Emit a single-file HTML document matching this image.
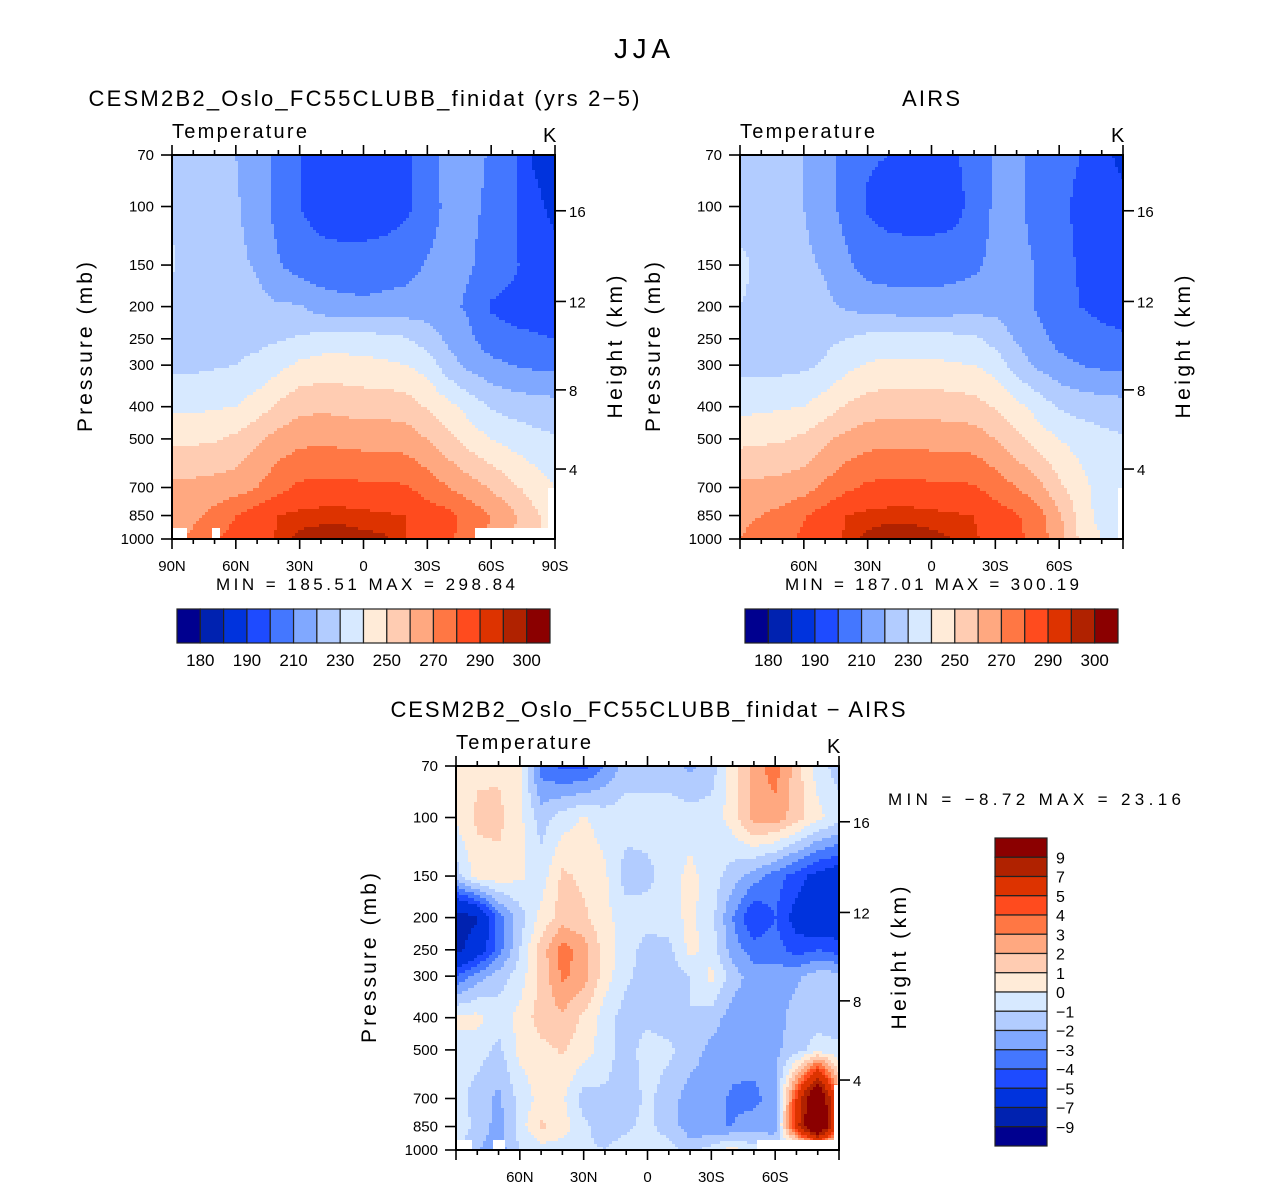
<!DOCTYPE html>
<html><head><meta charset="utf-8"><style>
html,body{margin:0;padding:0;background:#fff}
svg{display:block}
text{font-family:"Liberation Sans",sans-serif;fill:#000}
</style></head><body>
<svg id="fig" width="1285" height="1188" viewBox="0 0 1285 1188">
<text x="642" y="58" font-size="28" text-anchor="middle" textLength="56">JJA</text>
<g id="panelA"></g>
<g id="panelB"></g>
<g id="panelC"></g>
</svg>
<script>
const lats=[90,80,70,60,50,40,30,20,10,0,-10,-20,-30,-40,-50,-60,-70,-80,-90];
const pressures=[70,100,150,200,250,300,400,500,700,850,1000];
const tempLevels=[180,185,190,200,210,220,230,240,250,260,270,280,290,295,300];
const diffLevels=[-9,-7,-5,-4,-3,-2,-1,0,1,2,3,4,5,7,9];
const tempLabels=["180","190","210","230","250","270","290","300"];
const diffLabels=["9","7","5","4","3","2","1","0","−1","−2","−3","−4","−5","−7","−9"];
const pressureTicks=[70,100,150,200,250,300,400,500,700,850,1000];
const heightTicks=[4,8,12,16];
const heightTickPressure=[616,356,193,103];
const latTicksFull=["90N","60N","30N","0","30S","60S","90S"];
const latTicksInner=["","60N","30N","0","30S","60S",""];
const cesmT=[
[225,224,222,220,216,206,200,196,195,195,195,198,206,214,213,209,204,189,186],
[229,224,222,221,216,206,200,196,194,194,195,198,205,213,212,208,203,192,188],
[231,226,224,222,219,211,205,204,204,204,205,206,211,214,211,206,202,195,193],
[227,227,226,225,223,221,221,215,213,212,213,214,215,213,208,199,197,196,196],
[227,227,227,228,228,229,231,234,235,234,233,231,225,218,212,204,202,201,200],
[228,228,229,230,232,237,242,244,244,243,242,240,236,224,217,213,210,208,207],
[238,238,239,240,245,252,257,258,257,256,256,255,249,243,236,229,226,225,224],
[248,248,249,252,258,264,267,268,267,266,266,265,260,253,245,240,236,233,231],
[263,263,264,265,270,277,282,283,283,282,282,281,276,270,265,259,252,246,240],
[266,268,273,280,285,290,292,293,293,292,291,290,285,283,276,270,262,252,245],
[268,272,279,284,287,291,297,298,298,297,296,290,287,282,275,268,260,252,246]];
const airsT=[
[224,224,223,220,214,207,201,200,197,197,199,203,212,213,206,203,200,192,188],
[226,225,223,220,214,206,199,196,195,195,196,203,212,213,205,202,198,195,192],
[232,228,224,222,219,212,206,205,205,205,206,208,213,214,209,203,199,197,196],
[230,228,226,224,222,219,216,215,214,214,215,216,217,214,209,203,200,198,197],
[226,227,228,228,228,230,233,234,234,234,233,232,226,219,213,207,204,202,201],
[227,227,227,228,231,237,241,242,242,242,241,240,236,225,218,213,210,208,207],
[237,238,239,240,245,251,255,256,256,256,255,254,249,243,236,229,226,225,224],
[247,248,249,252,258,263,266,267,267,266,266,265,260,253,245,240,236,233,231],
[263,263,264,266,272,278,282,283,283,282,282,281,276,270,264,252,244,235,233],
[268,270,273,279,285,290,292,293,293,292,291,290,285,281,274,262,246,236,236],
[270,273,277,282,287,291,297,299,299,297,295,291,287,283,275,265,248,240,238]];
const diffT=[
[0.3,0.8,0.8,0.2,-3.5,-4.3,-4.3,-3,-1.5,-1.5,-1.5,-2.2,-1.5,0.5,2.5,3.5,1.5,-0.5,-1.5],
[0.2,1.2,1.3,0.3,-1.5,-0.5,0.1,-0.5,-0.5,-0.5,-0.5,-0.5,-0.6,0.5,2.5,2.6,1.5,0.3,-0.5],
[-1.5,0.5,0.6,0.2,-0.5,1.2,0.8,0.2,-1.5,-1.3,-0.5,0.3,-0.5,-1.5,-2.5,-3.5,-4.5,-5.5,-6],
[-8,-7.2,-3.5,-1.5,0.3,1.5,1.2,0.3,-0.5,-0.5,-0.5,0.3,-0.6,-3,-5,-4,-5.5,-6.5,-6],
[-7.5,-6,-3.5,-1,1.5,3.5,2.5,0.5,-0.5,-1.5,-1.3,0.3,-0.5,-2.5,-3.5,-3.5,-4.5,-4,-4.5],
[-4,-2.5,-1.5,-0.5,1.2,3.2,2.5,0.5,-0.8,-1.5,-1.5,-1,0.3,-1.5,-2.5,-2.5,-2.2,-1.5,-1.5],
[0.3,0.3,-0.5,0.3,1.5,1.8,0.8,-0.5,-1.5,-1.3,-1.5,-1,-1.5,-2.5,-2.5,-2.5,-1.5,-1.5,-1.5],
[-0.5,-0.5,-1.3,0.3,0.7,1.1,0.5,-0.5,-1.5,-0.5,-0.8,-1.5,-2.3,-2.5,-2.5,-2.2,-1.5,-0.5,-0.8],
[-0.5,-1.5,-2.2,-0.7,0.4,0.2,-1.5,-1.2,-1.5,-0.8,-1.5,-2.5,-2.5,-3.2,-3.3,-2.5,5,13,3],
[-0.5,-1.2,-2.5,-0.5,1.2,0.5,-0.8,-1.5,-1.2,-0.7,-1.5,-2.5,-3,-3,-2.5,-2.5,6,14,3],
[-0.5,-2,-2.5,-1,-0.5,-0.5,-0.8,-1,-0.5,-0.5,-0.5,-1.5,-0.5,0.5,-0.5,-1,-2,-1,-1]];
const palette=["#00008f","#0022b0","#0033dd","#1e4bff","#4477ff","#80a8ff","#b2ccff","#d7e9ff","#ffebd8","#ffccb2","#ffa880","#ff7744","#ff4b1e","#dd3300","#b02200","#8b0000"];
const NS="http://www.w3.org/2000/svg";
const W=383,H=384,LP=Math.log(1000/70);
function mk(parent,tag,attrs,txt){const e=document.createElementNS(NS,tag);for(const k in attrs)e.setAttribute(k,attrs[k]);if(txt!==undefined)e.textContent=txt;parent.appendChild(e);return e;}
function yOfP(y0,p){return y0+Math.log(p/70)/LP*H;}
function xOfLat(x0,lat){return x0+(90-lat)/180*W;}
function val(grid,li,p){
  let i=0;while(i<pressures.length-2&&p>pressures[i+1])i++;
  const t=(Math.log(p)-Math.log(pressures[i]))/(Math.log(pressures[i+1])-Math.log(pressures[i]));
  const j=Math.min(Math.floor(li),lats.length-2),s=li-j;
  const a=grid[i][j]*(1-s)+grid[i][j+1]*s,b=grid[i+1][j]*(1-s)+grid[i+1][j+1]*s;
  return a*(1-t)+b*t;
}
function lev(levels,v){let c=0;for(const b of levels)if(v>=b)c++;return c;}
function panel(g,x0,y0,grid,levels,masks,titleTxt,titleX,titleLen,xlabels,minmax){
  const field=mk(g,'g',{});
  
  
  const cs=3,nr=H/cs,nc=Math.ceil(W/cs);
  for(let r=0;r<nr;r++){
    const p=70*Math.exp((r+0.5)/nr*LP);
    let runStart=0,runC=-1;
    for(let c=0;c<=nc;c++){
      let ci=-2;
      if(c<nc){const lat=90-((c+0.5)*cs)/W*180;const li=(90-lat)/10;ci=lev(levels,val(grid,Math.min(li,18),p));}
      if(ci!==runC){
        if(runC>=0){const rc=mk(field,'rect',{x:x0+runStart*cs,y:y0+r*cs,width:Math.min((c-runStart)*cs,W-runStart*cs)+0.4,height:cs+0.4,fill:palette[runC]});
          
          }
        runStart=c;runC=ci;
      }
    }
  }
  for(const m of masks){const mr=mk(g,'rect',{x:m[0],y:m[1],width:m[2],height:m[3],fill:'#fff'});
    
    }
  const fr=mk(g,'rect',{x:x0,y:y0,width:W,height:H,fill:'none',stroke:'#000','stroke-width':2});
  
  
  for(const p of pressureTicks){const y=yOfP(y0,p);
    mk(g,'line',{x1:x0-11,y1:y,x2:x0,y2:y,stroke:'#000','stroke-width':1.6});
    const t=mk(g,'text',{x:x0-18,y:y+5,'font-size':15,'text-anchor':'end'},String(p));
    
    }
  heightTicks.forEach((h,k)=>{const y=yOfP(y0,heightTickPressure[k]);
    mk(g,'line',{x1:x0+W,y1:y,x2:x0+W+11,y2:y,stroke:'#000','stroke-width':1.6});
    const t=mk(g,'text',{x:x0+W+14,y:y+6,'font-size':15},String(h));
    
    });
  for(let k=0;k<=18;k++){const x=xOfLat(x0,90-k*10);const L=k%3===0?10:5;
    mk(g,'line',{x1:x,y1:y0,x2:x,y2:y0-L,stroke:'#000','stroke-width':1.6});
    mk(g,'line',{x1:x,y1:y0+H,x2:x,y2:y0+H+L,stroke:'#000','stroke-width':1.6});}
  xlabels.forEach((s,k)=>{if(!s)return;const t=mk(g,'text',{x:xOfLat(x0,90-k*30),y:y0+H+32,'font-size':15,'text-anchor':'middle'},s);
    
    });
  let t=mk(g,'text',{x:x0,y:y0-17,'font-size':20,textLength:135},'Temperature');
  
  t=mk(g,'text',{x:x0+W-12,y:y0-13,'font-size':20},'K');
  
  t=mk(g,'text',{x:0,y:0,'font-size':21,'text-anchor':'middle',textLength:170,transform:`translate(${x0-80},${y0+192}) rotate(-90)`},'Pressure  (mb)');
  
  t=mk(g,'text',{x:0,y:0,'font-size':21,'text-anchor':'middle',textLength:143,transform:`translate(${x0+W+67},${y0+192}) rotate(-90)`},'Height  (km)');
  
  if(titleTxt){t=mk(g,'text',{x:titleX,y:y0-49,'font-size':22,'text-anchor':'middle',textLength:titleLen},titleTxt);
    }
  if(minmax){t=mk(g,'text',{x:minmax[0],y:minmax[1],'font-size':17,textLength:minmax[3]},minmax[2]);
    }
}
function hbar(g,x0,y0){
  const bw=373/16;
  palette.forEach((c,i)=>{const r=mk(g,'rect',{x:x0+i*bw,y:y0,width:bw,height:34,fill:c,stroke:'#222','stroke-width':1.2});
    });
  tempLabels.forEach((s,k)=>{const t=mk(g,'text',{x:x0+bw*(2*k+1),y:y0+57,'font-size':17,'text-anchor':'middle'},s);
    });
}
const A=document.getElementById('panelA'),B=document.getElementById('panelB'),C=document.getElementById('panelC');
panel(A,172,155,cesmT,tempLevels,[[173,528,14,11],[212,528,8,11],[475,528,80,11],[548,488,7,40]],'CESM2B2_Oslo_FC55CLUBB_finidat (yrs 2−5)',364,551,latTicksFull,[216,590,'MIN  =  185.51    MAX  =  298.84',299]);
hbar(A,177,609);
panel(B,740,155,airsT,tempLevels,[[1118,488,5,51]],'AIRS',931,58,latTicksInner,[785,590,'MIN  =  187.01    MAX  =  300.19',294]);
hbar(B,745,609);
panel(C,456,766,diffT,diffLevels,[[457,1140,15,10],[493,1140,12,10],[757,1140,81,10],[834,1085,5,55]],'CESM2B2_Oslo_FC55CLUBB_finidat  −  AIRS',648,515,latTicksInner,null);
let tt=mk(C,'text',{x:888,y:805,'font-size':17,textLength:293},'MIN  =    −8.72    MAX  =    23.16');

const vbh=308/16;
palette.slice().reverse().forEach((c,i)=>{const r=mk(C,'rect',{x:995,y:838+i*vbh,width:52,height:vbh,fill:c,stroke:'#222','stroke-width':1.2});
  });
diffLabels.forEach((s,k)=>{const t=mk(C,'text',{x:1056,y:838+vbh*(k+1)+6,'font-size':16},s);
  });
</script>
</body></html>
